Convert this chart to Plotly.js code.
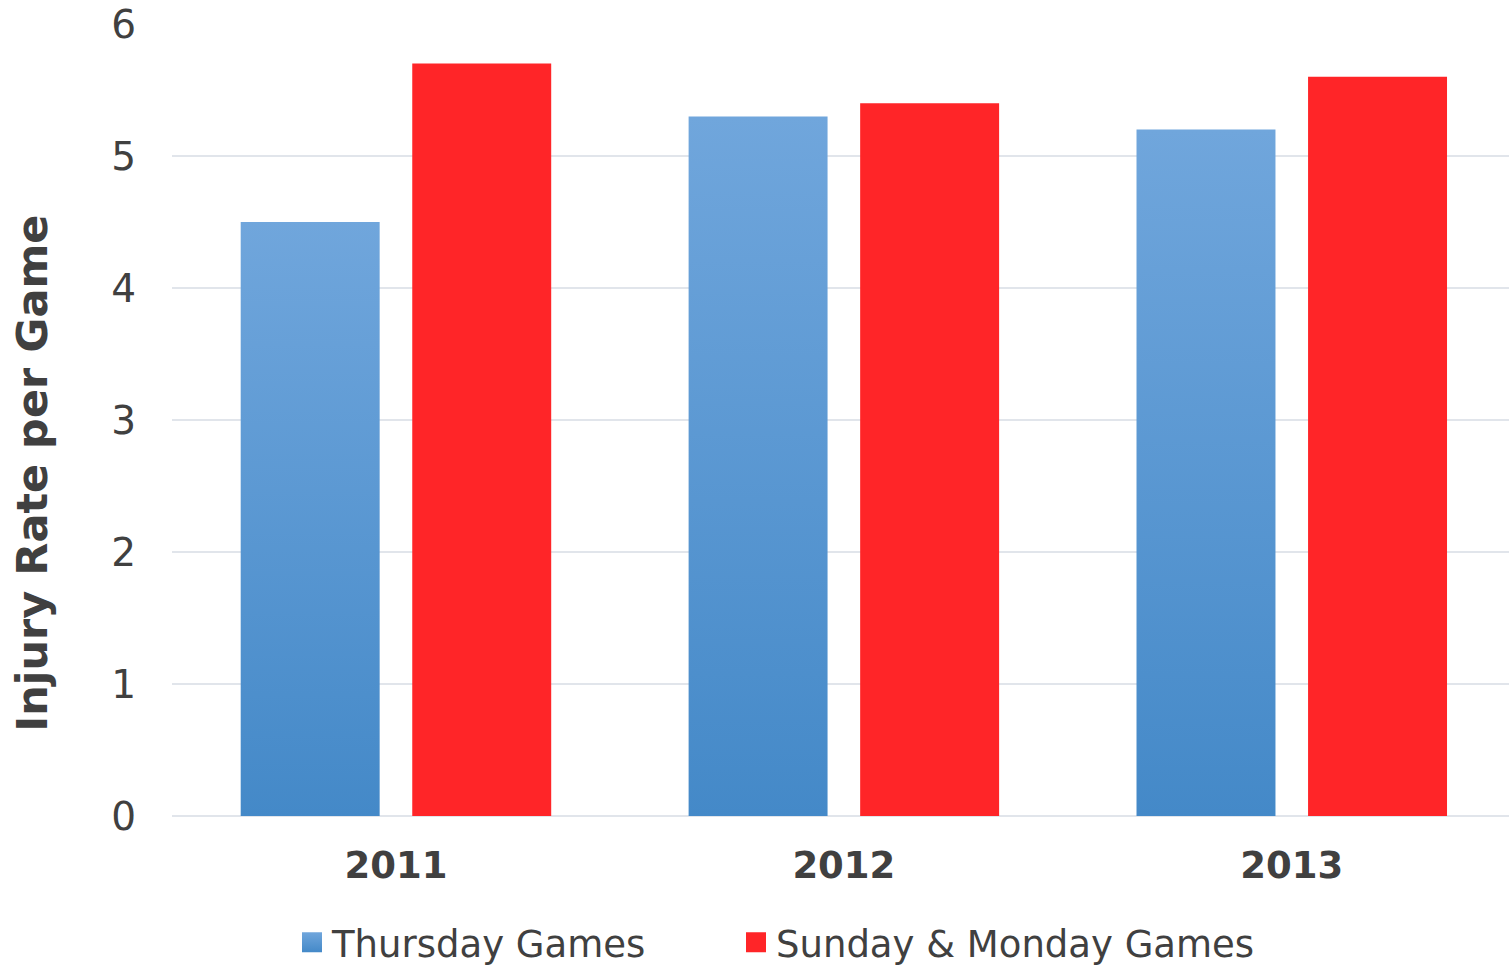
<!DOCTYPE html>
<html>
<head>
<meta charset="utf-8">
<script src="https://cdn.plot.ly/plotly-3.0.1.min.js"></script>
<style>
html,body{margin:0;padding:0;background:#fff;}
#chart{width:1509px;height:966px;}
</style>
</head>
<body>
<div id="chart"></div>
<script>
var categories = ["2011", "2012", "2013"];
var thursdayGames = [4.5, 5.3, 5.2];
var sundayMondayGames = [5.7, 5.4, 5.6];
var seriesNames = ["Thursday Games", "Sunday & Monday Games"];
var yTickValues = [0, 1, 2, 3, 4, 5, 6];
var yTitle = "Injury Rate per Game";

var FONT = "DejaVu Sans, Verdana, sans-serif";
var TEXT = "#404040";

var traces = [
  {type: "bar", name: seriesNames[0], x: categories, y: thursdayGames, legend: "legend",
   marker: {color: "#5b9bd5", line: {width: 0}}, hoverinfo: "none"},
  {type: "bar", name: seriesNames[1], x: categories, y: sundayMondayGames, legend: "legend2",
   marker: {color: "#ff2528", line: {width: 0}}, hoverinfo: "none"}
];

function legendAt(xPaper) {
  return {orientation: "h", x: xPaper, xanchor: "left", y: -0.160, yanchor: "middle",
          font: {family: FONT, size: 37, color: TEXT}, bgcolor: "rgba(0,0,0,0)",
          itemclick: false, itemdoubleclick: false};
}

var layout = {
  width: 1509, height: 966,
  margin: {l: 172, r: 0, t: 24, b: 150, autoexpand: false},
  paper_bgcolor: "#ffffff", plot_bgcolor: "#ffffff",
  font: {family: FONT, color: TEXT, size: 36},
  barmode: "group", bargap: 0.234, bargroupgap: 0.19,
  showlegend: true,
  legend: legendAt((292 - 172) / 1337),
  legend2: legendAt((736 - 172) / 1337),
  xaxis: {type: "category", range: [-0.5, 2.485], showgrid: false, showline: false, zeroline: false, ticks: "",
          automargin: false,
          tickfont: {family: FONT, size: 37, color: TEXT, weight: "bold"}, ticklabelstandoff: 24},
  yaxis: {range: [0, 6], tickvals: yTickValues, showgrid: true, gridcolor: "#e1e5eb", gridwidth: 2,
          zeroline: true, zerolinecolor: "#e1e5eb", zerolinewidth: 2, showline: false, ticks: "",
          automargin: false,
          tickfont: {family: FONT, size: 39, color: TEXT}, ticklabelstandoff: 35},
  annotations: [{text: yTitle, xref: "paper", yref: "paper", x: -0.1047, y: 0.432,
                 xanchor: "center", yanchor: "middle", textangle: -90, showarrow: false,
                 font: {family: FONT, size: 43, color: TEXT, weight: "bold"}}]
};

Plotly.newPlot("chart", traces, layout, {staticPlot: true, displayModeBar: false}).then(function (gd) {
  var svg = gd.querySelector("svg.main-svg");
  var ns = "http://www.w3.org/2000/svg";
  var defs = svg.querySelector("defs") || svg.insertBefore(document.createElementNS(ns, "defs"), svg.firstChild);
  var lg = document.createElementNS(ns, "linearGradient");
  lg.setAttribute("id", "thuGrad");
  lg.setAttribute("x1", "0"); lg.setAttribute("y1", "0");
  lg.setAttribute("x2", "0"); lg.setAttribute("y2", "1");
  [["0", "#70a6dc"], ["1", "#4489c8"]].forEach(function (s) {
    var st = document.createElementNS(ns, "stop");
    st.setAttribute("offset", s[0]); st.setAttribute("stop-color", s[1]);
    lg.appendChild(st);
  });
  defs.appendChild(lg);
  var traceGroups = gd.querySelectorAll(".barlayer .trace");
  if (traceGroups[0]) {
    traceGroups[0].querySelectorAll("path").forEach(function (p) { p.style.fill = "url(#thuGrad)"; });
  }
  var legendPts = gd.querySelectorAll(".legendpoints path");
  legendPts.forEach(function (p) {
    p.setAttribute("d", "M10,10H-10V-10H10Z");
    var f = p.style.fill || "";
    if (f.indexOf("91, 155, 213") >= 0 || f.indexOf("5b9bd5") >= 0) p.style.fill = "url(#thuGrad)";
  });
});
</script>
</body>
</html>
